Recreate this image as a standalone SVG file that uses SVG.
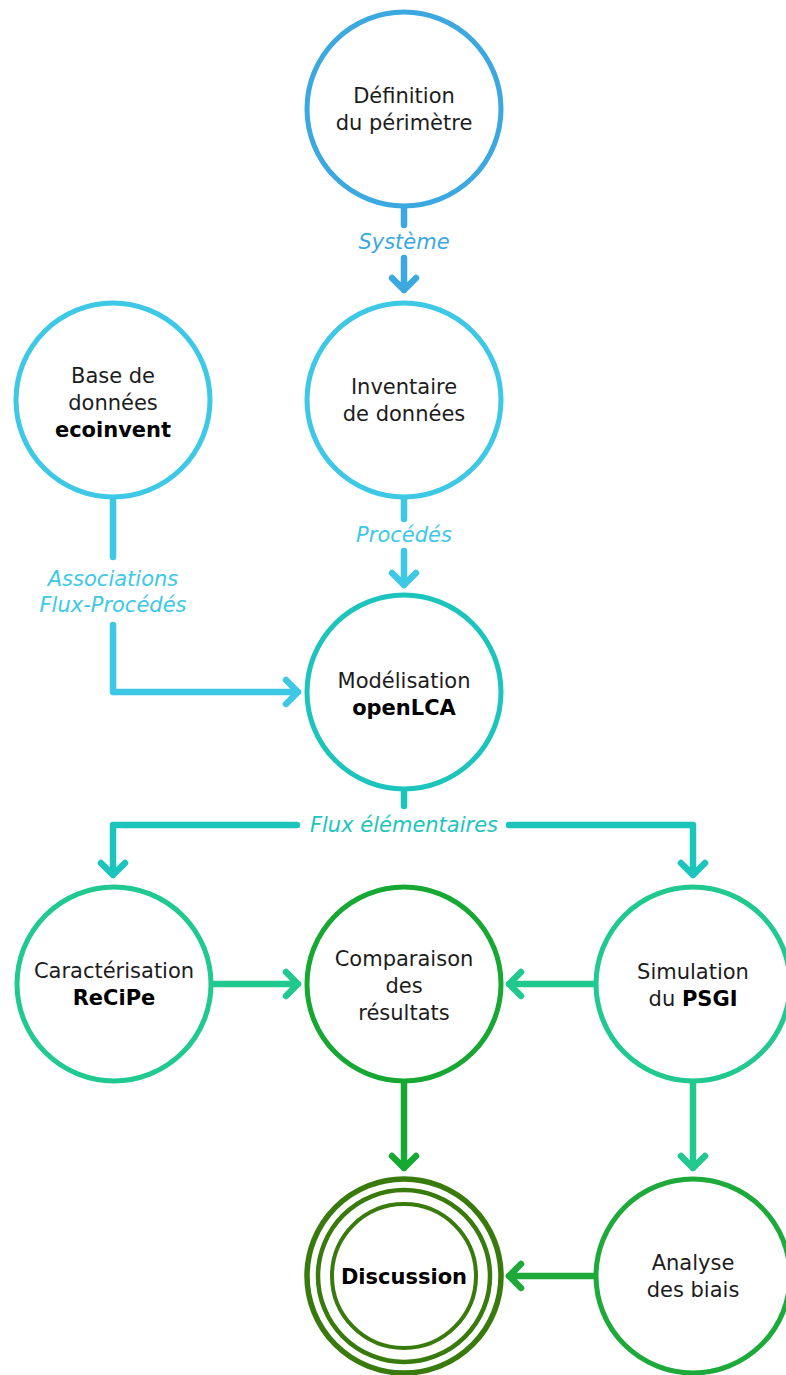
<svg xmlns="http://www.w3.org/2000/svg" width="786" height="1375" viewBox="0 0 786 1375">
<style>
.n{fill:#fff;stroke-width:5}
.t{font-family:"DejaVu Sans","Verdana",sans-serif;font-size:21px;fill:#1c1c1c;text-anchor:middle}
.b{font-weight:bold;fill:#000}
.l{font-family:"DejaVu Sans","Verdana",sans-serif;font-size:21px;font-style:italic;text-anchor:middle}
.c{fill:none;stroke-width:6.5;stroke-linecap:round;stroke-linejoin:round}
</style>
<rect width="786" height="1375" fill="#fff"/>
<g id="connectors">
  <g stroke="#3BA8E0" class="c"><path d="M404 207V225M404 258V290M392 278L404 290L416 278"/></g>
  <text class="l" x="404" y="249" fill="#3BA8E0">Système</text>
  <g stroke="#3DC8E5" class="c"><path d="M404 498V519M404 551V585M392 573L404 585L416 573"/></g>
  <text class="l" x="404" y="542" fill="#3DC8E5">Procédés</text>
  <g stroke="#3DC8E5" class="c"><path d="M113 498V557M113 625V692H298M286 680L298 692L286 704"/></g>
  <text class="l" x="113" y="586" fill="#3DC8E5">Associations</text>
  <text class="l" x="113" y="612" fill="#3DC8E5">Flux-Procédés</text>
  <g stroke="#1CC5BC" class="c"><path d="M404 790V806M297 825H113V875M101 863L113 875L125 863M509 825H693V875M681 863L693 875L705 863"/></g>
  <text class="l" x="404" y="832" fill="#1CC5BC">Flux élémentaires</text>
  <g stroke="#20C98E" class="c"><path d="M214 984H298M286 972L298 984L286 996M594 984H509M521 972L509 984L521 996M693 1082V1168M681 1156L693 1168L705 1156"/></g>
  <g stroke="#16A832" class="c"><path d="M404 1082V1168M392 1156L404 1168L416 1156"/></g>
  <g stroke="#1DAA3A" class="c"><path d="M594 1276H509M521 1264L509 1276L521 1288"/></g>
</g>
<g id="definition"><circle class="n" cx="404" cy="109" r="97" stroke="#3BA8E0"/><text class="t" x="404" y="103">Définition</text><text class="t" x="404" y="130">du périmètre</text></g>
<g id="inventaire"><circle class="n" cx="404" cy="400" r="97" stroke="#3DC8E5"/><text class="t" x="404" y="394">Inventaire</text><text class="t" x="404" y="421">de données</text></g>
<g id="base"><circle class="n" cx="113" cy="400" r="97" stroke="#3DC8E5"/><text class="t" x="113" y="383">Base de</text><text class="t" x="113" y="410">données</text><text class="t b" x="113" y="437">ecoinvent</text></g>
<g id="modelisation"><circle class="n" cx="404" cy="692" r="97" stroke="#1CC5BC"/><text class="t" x="404" y="688">Modélisation</text><text class="t b" x="404" y="715">openLCA</text></g>
<g id="caracterisation"><circle class="n" cx="114" cy="984" r="97" stroke="#20C98E"/><text class="t" x="114" y="978">Caractérisation</text><text class="t b" x="114" y="1005">ReCiPe</text></g>
<g id="comparaison"><circle class="n" cx="404" cy="984" r="97" stroke="#16A832"/><text class="t" x="404" y="966">Comparaison</text><text class="t" x="404" y="993">des</text><text class="t" x="404" y="1020">résultats</text></g>
<g id="simulation"><circle class="n" cx="693" cy="984" r="97" stroke="#20C98E"/><text class="t" x="693" y="979">Simulation</text><text class="t" x="693" y="1006">du <tspan class="b">PSGI</tspan></text></g>
<g id="discussion"><circle cx="404" cy="1276" r="97" fill="#fff" stroke="#387A0C" stroke-width="5.5"/><circle cx="404" cy="1276" r="86" fill="none" stroke="#387A0C" stroke-width="4.5"/><circle cx="404" cy="1276" r="72" fill="none" stroke="#387A0C" stroke-width="4"/><text class="t b" x="404" y="1284">Discussion</text></g>
<g id="analyse"><circle class="n" cx="693" cy="1276" r="97" stroke="#1DAA3A"/><text class="t" x="693" y="1270">Analyse</text><text class="t" x="693" y="1297">des biais</text></g>
</svg>
